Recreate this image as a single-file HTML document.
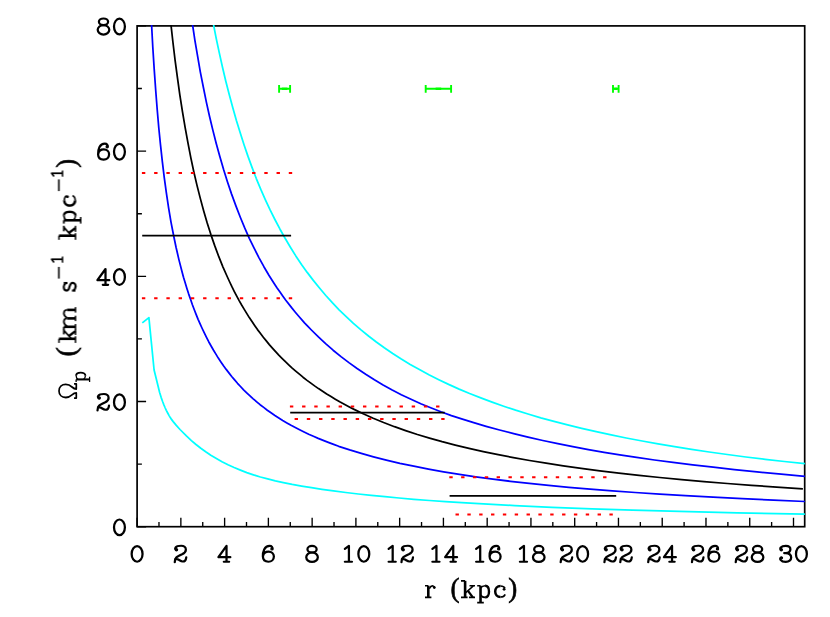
<!DOCTYPE html>
<html><head><meta charset="utf-8"><title>Pattern speed</title>
<style>html,body{margin:0;padding:0;background:#fff}body{width:830px;height:617px;overflow:hidden;font-family:"Liberation Sans",sans-serif}svg{display:block}</style>
</head><body>
<svg width="830" height="617" viewBox="0 0 830 617">
<defs><clipPath id="c"><rect x="136.1" y="24.9" width="669.6" height="502.80000000000007"/></clipPath></defs>
<rect x="137.1" y="25.9" width="667.6" height="500.80000000000007" fill="none" stroke="#000" stroke-width="1.7"/>
<path d="M137.10,526.7v-9.0M158.98,526.7v-4.8M180.86,526.7v-9.0M202.74,526.7v-4.8M224.62,526.7v-9.0M246.50,526.7v-4.8M268.38,526.7v-9.0M290.26,526.7v-4.8M312.14,526.7v-9.0M334.02,526.7v-4.8M355.90,526.7v-9.0M377.78,526.7v-4.8M399.66,526.7v-9.0M421.54,526.7v-4.8M443.42,526.7v-9.0M465.30,526.7v-4.8M487.18,526.7v-9.0M509.06,526.7v-4.8M530.94,526.7v-9.0M552.82,526.7v-4.8M574.70,526.7v-9.0M596.58,526.7v-4.8M618.46,526.7v-9.0M640.34,526.7v-4.8M662.22,526.7v-9.0M684.10,526.7v-4.8M705.98,526.7v-9.0M727.86,526.7v-4.8M749.74,526.7v-9.0M771.62,526.7v-4.8M793.50,526.7v-9.0M137.1,526.70h9.0M137.1,464.10h4.8M137.1,401.50h9.0M137.1,338.90h4.8M137.1,276.30h9.0M137.1,213.70h4.8M137.1,151.10h9.0M137.1,88.50h4.8M137.1,25.90h9.0" stroke="#000" stroke-width="1.35" fill="none"/>
<g clip-path="url(#c)" fill="none" stroke-width="1.75" stroke-linejoin="round">
<path d="M142.3,322.9L148.9,317.6L154.1,370.0L159.7,392.8L161.2,397.6L162.6,401.5L163.8,404.6L165.0,407.5L166.3,410.3L167.7,413.0L169.1,415.6L170.3,417.6L171.5,419.4L173.2,421.6L176.3,425.4L180.0,429.5L186.4,435.9L191.4,440.6L196.0,444.5L200.8,448.3L205.7,451.8L210.8,455.2L216.4,458.5L222.0,461.7L228.0,464.7L234.1,467.5L240.4,470.1L246.8,472.6L253.4,474.8L260.4,477.0L267.7,478.9L275.3,480.8L283.4,482.6L292.2,484.4L301.6,486.1L311.5,487.7L322.0,489.3L333.5,490.9L345.8,492.5L358.3,494.0L371.3,495.4L385.0,496.7L399.0,498.0L413.8,499.3L429.5,500.5L445.5,501.6L461.8,502.7L479.0,503.7L514.7,505.6L552.0,507.3L592.1,508.9L632.6,510.2L679.6,511.4L737.4,512.8L804.9,514.2" stroke="#0ff"/>
<path d="M213.1,22.5L216.2,38.3L219.3,52.9L222.5,67.2L225.8,81.2L229.3,94.8L232.8,107.8L236.4,120.5L240.2,132.8L244.1,144.9L248.0,156.4L252.2,167.9L256.4,178.8L260.8,189.4L265.4,199.8L270.1,209.9L274.9,219.5L280.0,229.2L285.1,238.3L290.4,247.2L295.8,255.9L301.5,264.4L307.2,272.4L313.3,280.4L319.5,288.0L325.8,295.5L332.3,302.7L339.1,309.8L346.2,316.6L353.4,323.3L360.7,329.6L368.5,336.0L376.3,342.0L384.3,347.8L392.7,353.5L401.3,359.0L410.2,364.4L419.4,369.6L428.9,374.7L438.8,379.7L448.6,384.4L459.1,389.1L469.6,393.5L480.8,397.9L492.1,402.1L503.7,406.2L515.6,410.2L528.0,414.0L540.8,417.8L554.0,421.4L567.6,424.9L581.7,428.4L596.2,431.7L611.2,434.9L626.2,438.0L642.2,441.0L658.1,443.9L674.6,446.7L691.6,449.4L709.2,452.0L727.3,454.5L745.9,457.0L765.2,459.3L784.4,461.5L804.9,463.7" stroke="#0ff"/>
<path d="M151.5,23.2L152.8,47.2L154.2,69.1L155.7,90.2L157.2,109.5L158.8,128.0L160.5,144.9L162.4,162.1L164.3,177.8L166.4,193.1L168.6,207.8L171.0,222.1L173.5,235.0L176.1,247.5L178.9,259.6L181.9,271.3L183.5,277.3L185.1,282.5L186.9,288.4L188.7,294.1L190.7,299.8L192.4,304.8L194.3,309.7L196.2,314.6L198.1,319.3L200.1,323.9L202.2,328.5L204.3,332.9L206.5,337.3L208.7,341.7L211.1,346.0L213.4,350.0L215.9,354.1L218.3,358.1L220.9,361.9L223.5,365.7L226.2,369.4L228.9,372.9L231.7,376.5L234.6,379.9L237.5,383.3L240.5,386.5L243.6,389.8L246.7,392.8L250.0,395.9L253.2,398.8L256.7,401.8L260.1,404.7L263.7,407.4L267.3,410.2L271.0,412.8L274.9,415.5L278.8,418.0L282.7,420.5L286.9,422.9L291.0,425.3L295.3,427.6L299.6,429.8L304.1,432.0L308.7,434.2L313.4,436.3L318.2,438.4L323.2,440.4L328.3,442.4L333.6,444.4L338.7,446.3L349.7,449.9L361.3,453.4L373.5,456.8L386.3,460.1L399.9,463.3L413.8,466.2L428.5,469.1L443.6,471.8L459.5,474.3L475.8,476.8L492.9,479.1L510.4,481.3L529.3,483.4L548.6,485.4L568.8,487.3L590.1,489.1L612.4,490.9L635.2,492.5L659.7,494.1L685.4,495.7L713.1,497.2L742.2,498.7L773.5,500.1L804.9,501.5" stroke="#00f"/>
<path d="M192.2,22.3L194.9,40.3L197.6,56.1L200.3,71.8L203.3,87.0L206.3,101.9L209.5,116.3L212.9,130.4L216.3,143.8L219.9,156.8L223.6,169.6L227.5,182.0L231.6,194.1L235.9,205.9L240.3,217.2L244.7,227.9L249.3,238.3L254.1,248.2L258.9,257.6L263.9,266.7L268.9,275.3L274.3,283.8L277.1,288.0L280.0,292.1L282.9,296.2L285.8,300.2L291.8,307.9L294.9,311.7L298.1,315.5L304.5,322.8L307.9,326.4L311.4,330.0L318.4,336.9L325.6,343.6L333.1,350.2L341.0,356.6L348.9,362.6L357.1,368.5L365.7,374.3L374.4,379.8L383.1,385.0L392.2,390.0L401.3,394.7L411.0,399.3L420.8,403.7L430.7,407.8L440.9,411.8L451.4,415.6L462.4,419.2L473.7,422.7L486.1,426.3L499.6,430.0L513.7,433.6L528.0,437.1L542.8,440.5L557.8,443.6L572.8,446.7L588.4,449.6L604.1,452.3L619.8,454.9L636.6,457.4L654.5,460.0L673.0,462.4L692.7,464.9L713.2,467.2L734.4,469.6L757.0,471.9L781.2,474.2L804.9,476.4" stroke="#00f"/>
<path d="M170.7,22.3L172.9,42.0L175.1,60.3L177.5,78.2L179.9,95.4L182.5,111.9L185.2,127.8L188.0,143.1L190.8,157.7L193.8,171.7L197.0,185.4L200.3,198.4L203.7,210.9L207.2,223.0L210.9,234.6L214.8,245.9L218.8,256.7L223.0,267.1L227.4,277.0L229.7,282.0L231.9,286.7L234.2,291.3L236.6,295.9L239.0,300.4L241.5,304.8L244.1,309.1L246.7,313.4L249.3,317.6L252.0,321.6L254.8,325.7L257.5,329.6L260.5,333.5L263.3,337.3L266.3,340.9L269.3,344.6L272.4,348.1L275.6,351.6L278.8,355.1L282.0,358.3L285.4,361.7L288.7,364.8L292.2,368.1L295.7,371.1L299.4,374.2L303.0,377.2L306.7,380.1L310.5,382.9L314.6,385.9L318.5,388.6L322.6,391.3L326.7,394.0L331.0,396.6L335.3,399.2L339.7,401.8L344.3,404.3L348.9,406.7L353.6,409.1L363.2,413.7L373.2,418.2L383.6,422.5L394.5,426.7L405.6,430.6L417.4,434.5L429.5,438.1L442.1,441.7L455.3,445.1L469.0,448.4L483.3,451.6L498.2,454.7L513.4,457.6L529.6,460.5L546.1,463.2L563.3,465.8L581.2,468.4L599.9,470.8L618.9,473.1L639.1,475.4L659.7,477.5L681.7,479.6L704.0,481.6L727.3,483.5L751.5,485.4L776.6,487.1L802.9,488.8" stroke="#000"/>
</g>
<g stroke="#000" stroke-width="1.75" fill="none">
<path d="M142.2,235.5H291.1"/>
<path d="M290.2,412.55H444.7"/>
<path d="M449.6,495.93H616.2"/>
</g>
<g stroke="#f00" stroke-width="2" fill="none">
<path d="M141.9,173.1H292.2" stroke-dasharray="3.4 8.84"/>
<path d="M141.9,298.15H292.2" stroke-dasharray="3.4 8.84"/>
<path d="M289.9,406.55H439.5" stroke-dasharray="3.4 8.78"/>
<path d="M294.6,419.1H444.6" stroke-dasharray="3.4 8.82"/>
<path d="M449.3,477.3H606.5" stroke-dasharray="3.4 8.43"/>
<path d="M455.5,514.6H612.8" stroke-dasharray="3.4 8.44"/>
</g>
<g stroke="#0f0" stroke-width="1.9" fill="none">
<path d="M279.1,88.8H290.1M279.1,84.9V92.7M290.1,84.9V92.7"/>
<path d="M281.8,88.8H287.4" stroke-width="2.4"/>
<path d="M425.7,88.8H451.1M425.7,84.9V92.7M451.1,84.9V92.7"/>
<path d="M435.6,88.8H441.2" stroke-width="2.4"/>
<path d="M613.0,88.8H618.6M613.0,84.9V92.7M618.6,84.9V92.7"/>
<path d="M614.2,88.8H617.4" stroke-width="2.4"/>
</g>
<g fill="none" stroke="#000" stroke-width="2.25" stroke-linecap="round" stroke-linejoin="round">
<g transform="translate(137.10,561.75) scale(1,0.975)"><ellipse cx="0" cy="-8.05" rx="5.45" ry="8.05"/></g>
<g transform="translate(180.86,561.75) scale(1,0.975)"><path d="M-4.4,-12.2C-5.6,-12.4 -6,-13.6 -5.4,-14.4C-4.4,-15.9 -2,-16.4 0.3,-16.4C3.2,-16.4 5,-14.6 5,-12.4C5,-10.2 3.4,-8.8 1.2,-7.7C-1,-6.7 -3.4,-5.6 -4.6,-4.4C-5.7,-3.2 -6.1,-1.4 -6.1,0.4M-5.6,-3C-4.6,-2.9 -3.6,-2.7 -2.6,-2.2C-1.2,-1.5 .2,-.3 1.7,-.25C3.6,-.2 5.1,-1.8 5.4,-4.6"/><circle cx="-4.4" cy="-12.3" r="0.6"/></g>
<g transform="translate(224.62,561.75) scale(1,0.975)"><path d="M1.9,0V-16.2L-6.2,-4.7H5.7M-.8,0H4.5"/></g>
<g transform="translate(268.38,561.75) scale(1,0.975)"><path d="M3.7,-13.2C4.6,-14.6 3.4,-16.3 1.2,-16.3C-1,-16.3 -3,-15 -4.2,-12.6C-5.2,-10.5 -5.6,-8 -5.5,-5.3C-5.4,-2 -3.2,0 0,0C3.2,0 5.5,-2.2 5.5,-5.4C5.5,-8.4 3.2,-10.4 .2,-10.4C-2.6,-10.4 -5,-8.6 -5.4,-5.6"/><circle cx="3.6" cy="-13.2" r="0.6"/></g>
<g transform="translate(312.14,561.75) scale(1,0.975)"><ellipse cx="-.1" cy="-12.9" rx="4.6" ry="3.4"/><ellipse cx="-.1" cy="-4.65" rx="5.8" ry="4.85"/></g>
<g transform="translate(347.97,561.75) scale(1,0.975)"><path d="M-3.1,-13.3L0.95,-16.3V0M-3.1,0H4.0"/></g><g transform="translate(363.82,561.75) scale(1,0.975)"><ellipse cx="0" cy="-8.05" rx="5.45" ry="8.05"/></g>
<g transform="translate(391.73,561.75) scale(1,0.975)"><path d="M-3.1,-13.3L0.95,-16.3V0M-3.1,0H4.0"/></g><g transform="translate(407.58,561.75) scale(1,0.975)"><path d="M-4.4,-12.2C-5.6,-12.4 -6,-13.6 -5.4,-14.4C-4.4,-15.9 -2,-16.4 0.3,-16.4C3.2,-16.4 5,-14.6 5,-12.4C5,-10.2 3.4,-8.8 1.2,-7.7C-1,-6.7 -3.4,-5.6 -4.6,-4.4C-5.7,-3.2 -6.1,-1.4 -6.1,0.4M-5.6,-3C-4.6,-2.9 -3.6,-2.7 -2.6,-2.2C-1.2,-1.5 .2,-.3 1.7,-.25C3.6,-.2 5.1,-1.8 5.4,-4.6"/><circle cx="-4.4" cy="-12.3" r="0.6"/></g>
<g transform="translate(435.49,561.75) scale(1,0.975)"><path d="M-3.1,-13.3L0.95,-16.3V0M-3.1,0H4.0"/></g><g transform="translate(451.34,561.75) scale(1,0.975)"><path d="M1.9,0V-16.2L-6.2,-4.7H5.7M-.8,0H4.5"/></g>
<g transform="translate(479.25,561.75) scale(1,0.975)"><path d="M-3.1,-13.3L0.95,-16.3V0M-3.1,0H4.0"/></g><g transform="translate(495.10,561.75) scale(1,0.975)"><path d="M3.7,-13.2C4.6,-14.6 3.4,-16.3 1.2,-16.3C-1,-16.3 -3,-15 -4.2,-12.6C-5.2,-10.5 -5.6,-8 -5.5,-5.3C-5.4,-2 -3.2,0 0,0C3.2,0 5.5,-2.2 5.5,-5.4C5.5,-8.4 3.2,-10.4 .2,-10.4C-2.6,-10.4 -5,-8.6 -5.4,-5.6"/><circle cx="3.6" cy="-13.2" r="0.6"/></g>
<g transform="translate(523.01,561.75) scale(1,0.975)"><path d="M-3.1,-13.3L0.95,-16.3V0M-3.1,0H4.0"/></g><g transform="translate(538.86,561.75) scale(1,0.975)"><ellipse cx="-.1" cy="-12.9" rx="4.6" ry="3.4"/><ellipse cx="-.1" cy="-4.65" rx="5.8" ry="4.85"/></g>
<g transform="translate(566.77,561.75) scale(1,0.975)"><path d="M-4.4,-12.2C-5.6,-12.4 -6,-13.6 -5.4,-14.4C-4.4,-15.9 -2,-16.4 0.3,-16.4C3.2,-16.4 5,-14.6 5,-12.4C5,-10.2 3.4,-8.8 1.2,-7.7C-1,-6.7 -3.4,-5.6 -4.6,-4.4C-5.7,-3.2 -6.1,-1.4 -6.1,0.4M-5.6,-3C-4.6,-2.9 -3.6,-2.7 -2.6,-2.2C-1.2,-1.5 .2,-.3 1.7,-.25C3.6,-.2 5.1,-1.8 5.4,-4.6"/><circle cx="-4.4" cy="-12.3" r="0.6"/></g><g transform="translate(582.62,561.75) scale(1,0.975)"><ellipse cx="0" cy="-8.05" rx="5.45" ry="8.05"/></g>
<g transform="translate(610.53,561.75) scale(1,0.975)"><path d="M-4.4,-12.2C-5.6,-12.4 -6,-13.6 -5.4,-14.4C-4.4,-15.9 -2,-16.4 0.3,-16.4C3.2,-16.4 5,-14.6 5,-12.4C5,-10.2 3.4,-8.8 1.2,-7.7C-1,-6.7 -3.4,-5.6 -4.6,-4.4C-5.7,-3.2 -6.1,-1.4 -6.1,0.4M-5.6,-3C-4.6,-2.9 -3.6,-2.7 -2.6,-2.2C-1.2,-1.5 .2,-.3 1.7,-.25C3.6,-.2 5.1,-1.8 5.4,-4.6"/><circle cx="-4.4" cy="-12.3" r="0.6"/></g><g transform="translate(626.38,561.75) scale(1,0.975)"><path d="M-4.4,-12.2C-5.6,-12.4 -6,-13.6 -5.4,-14.4C-4.4,-15.9 -2,-16.4 0.3,-16.4C3.2,-16.4 5,-14.6 5,-12.4C5,-10.2 3.4,-8.8 1.2,-7.7C-1,-6.7 -3.4,-5.6 -4.6,-4.4C-5.7,-3.2 -6.1,-1.4 -6.1,0.4M-5.6,-3C-4.6,-2.9 -3.6,-2.7 -2.6,-2.2C-1.2,-1.5 .2,-.3 1.7,-.25C3.6,-.2 5.1,-1.8 5.4,-4.6"/><circle cx="-4.4" cy="-12.3" r="0.6"/></g>
<g transform="translate(654.30,561.75) scale(1,0.975)"><path d="M-4.4,-12.2C-5.6,-12.4 -6,-13.6 -5.4,-14.4C-4.4,-15.9 -2,-16.4 0.3,-16.4C3.2,-16.4 5,-14.6 5,-12.4C5,-10.2 3.4,-8.8 1.2,-7.7C-1,-6.7 -3.4,-5.6 -4.6,-4.4C-5.7,-3.2 -6.1,-1.4 -6.1,0.4M-5.6,-3C-4.6,-2.9 -3.6,-2.7 -2.6,-2.2C-1.2,-1.5 .2,-.3 1.7,-.25C3.6,-.2 5.1,-1.8 5.4,-4.6"/><circle cx="-4.4" cy="-12.3" r="0.6"/></g><g transform="translate(670.14,561.75) scale(1,0.975)"><path d="M1.9,0V-16.2L-6.2,-4.7H5.7M-.8,0H4.5"/></g>
<g transform="translate(698.06,561.75) scale(1,0.975)"><path d="M-4.4,-12.2C-5.6,-12.4 -6,-13.6 -5.4,-14.4C-4.4,-15.9 -2,-16.4 0.3,-16.4C3.2,-16.4 5,-14.6 5,-12.4C5,-10.2 3.4,-8.8 1.2,-7.7C-1,-6.7 -3.4,-5.6 -4.6,-4.4C-5.7,-3.2 -6.1,-1.4 -6.1,0.4M-5.6,-3C-4.6,-2.9 -3.6,-2.7 -2.6,-2.2C-1.2,-1.5 .2,-.3 1.7,-.25C3.6,-.2 5.1,-1.8 5.4,-4.6"/><circle cx="-4.4" cy="-12.3" r="0.6"/></g><g transform="translate(713.90,561.75) scale(1,0.975)"><path d="M3.7,-13.2C4.6,-14.6 3.4,-16.3 1.2,-16.3C-1,-16.3 -3,-15 -4.2,-12.6C-5.2,-10.5 -5.6,-8 -5.5,-5.3C-5.4,-2 -3.2,0 0,0C3.2,0 5.5,-2.2 5.5,-5.4C5.5,-8.4 3.2,-10.4 .2,-10.4C-2.6,-10.4 -5,-8.6 -5.4,-5.6"/><circle cx="3.6" cy="-13.2" r="0.6"/></g>
<g transform="translate(741.82,561.75) scale(1,0.975)"><path d="M-4.4,-12.2C-5.6,-12.4 -6,-13.6 -5.4,-14.4C-4.4,-15.9 -2,-16.4 0.3,-16.4C3.2,-16.4 5,-14.6 5,-12.4C5,-10.2 3.4,-8.8 1.2,-7.7C-1,-6.7 -3.4,-5.6 -4.6,-4.4C-5.7,-3.2 -6.1,-1.4 -6.1,0.4M-5.6,-3C-4.6,-2.9 -3.6,-2.7 -2.6,-2.2C-1.2,-1.5 .2,-.3 1.7,-.25C3.6,-.2 5.1,-1.8 5.4,-4.6"/><circle cx="-4.4" cy="-12.3" r="0.6"/></g><g transform="translate(757.66,561.75) scale(1,0.975)"><ellipse cx="-.1" cy="-12.9" rx="4.6" ry="3.4"/><ellipse cx="-.1" cy="-4.65" rx="5.8" ry="4.85"/></g>
<g transform="translate(785.58,561.75) scale(1,0.975)"><path d="M-4.3,-12.2C-5.4,-12.6 -5.6,-13.8 -4.8,-14.7C-3.8,-15.8 -2,-16.3 .2,-16.3C3,-16.3 4.8,-14.9 4.8,-12.7C4.8,-10.4 2.8,-9 .2,-8.9H-1.4M.2,-8.9C3.4,-8.8 5.6,-7 5.6,-4.4C5.6,-1.6 3.4,.1 .2,.1C-2,.1 -4,-.6 -5,-2C-5.8,-3.1 -5.3,-4.1 -4.2,-4.1"/><circle cx="-4.3" cy="-12.3" r="0.6"/><circle cx="-4.2" cy="-4" r="0.6"/></g><g transform="translate(801.42,561.75) scale(1,0.975)"><ellipse cx="0" cy="-8.05" rx="5.45" ry="8.05"/></g>
<g transform="translate(119.45,535.20) scale(1,0.975)"><ellipse cx="0" cy="-8.05" rx="5.45" ry="8.05"/></g>
<g transform="translate(103.60,410.00) scale(1,0.975)"><path d="M-4.4,-12.2C-5.6,-12.4 -6,-13.6 -5.4,-14.4C-4.4,-15.9 -2,-16.4 0.3,-16.4C3.2,-16.4 5,-14.6 5,-12.4C5,-10.2 3.4,-8.8 1.2,-7.7C-1,-6.7 -3.4,-5.6 -4.6,-4.4C-5.7,-3.2 -6.1,-1.4 -6.1,0.4M-5.6,-3C-4.6,-2.9 -3.6,-2.7 -2.6,-2.2C-1.2,-1.5 .2,-.3 1.7,-.25C3.6,-.2 5.1,-1.8 5.4,-4.6"/><circle cx="-4.4" cy="-12.3" r="0.6"/></g><g transform="translate(119.45,410.00) scale(1,0.975)"><ellipse cx="0" cy="-8.05" rx="5.45" ry="8.05"/></g>
<g transform="translate(103.60,284.80) scale(1,0.975)"><path d="M1.9,0V-16.2L-6.2,-4.7H5.7M-.8,0H4.5"/></g><g transform="translate(119.45,284.80) scale(1,0.975)"><ellipse cx="0" cy="-8.05" rx="5.45" ry="8.05"/></g>
<g transform="translate(103.60,159.60) scale(1,0.975)"><path d="M3.7,-13.2C4.6,-14.6 3.4,-16.3 1.2,-16.3C-1,-16.3 -3,-15 -4.2,-12.6C-5.2,-10.5 -5.6,-8 -5.5,-5.3C-5.4,-2 -3.2,0 0,0C3.2,0 5.5,-2.2 5.5,-5.4C5.5,-8.4 3.2,-10.4 .2,-10.4C-2.6,-10.4 -5,-8.6 -5.4,-5.6"/><circle cx="3.6" cy="-13.2" r="0.6"/></g><g transform="translate(119.45,159.60) scale(1,0.975)"><ellipse cx="0" cy="-8.05" rx="5.45" ry="8.05"/></g>
<g transform="translate(103.60,34.40) scale(1,0.975)"><ellipse cx="-.1" cy="-12.9" rx="4.6" ry="3.4"/><ellipse cx="-.1" cy="-4.65" rx="5.8" ry="4.85"/></g><g transform="translate(119.45,34.40) scale(1,0.975)"><ellipse cx="0" cy="-8.05" rx="5.45" ry="8.05"/></g>
</g>
<g font-family="Liberation Serif, serif" fill="#000" stroke="#000" stroke-width="0.6" style="filter:grayscale(1)">
<g transform="translate(0,598)">
<text x="450.6" y="-1.0" font-size="26.5" textLength="9.0" lengthAdjust="spacingAndGlyphs">(</text>
<text x="508.2" y="-1.0" font-size="26.5" textLength="9.0" lengthAdjust="spacingAndGlyphs">)</text>
</g>
<g transform="translate(76.2,399) rotate(-90)">
<text x="42.4" y="-1.0" font-size="26.5" textLength="9.4" lengthAdjust="spacingAndGlyphs">(</text>
<text x="231.2" y="-1.0" font-size="26.5" textLength="8.8" lengthAdjust="spacingAndGlyphs">)</text>
</g>
</g>
<g fill="none" stroke="#000" stroke-linecap="butt" stroke-linejoin="round">
<g transform="translate(0,597.36)">
<g transform="translate(424.40,0.00)"><path d="M3.9,-11.6V0" stroke-width="2.6"/><path d="M.6,-11.6H3.9M.6,0H7M4.9,-8.6C6,-10.8 7.5,-11.6 8.6,-11.4C9.6,-11.2 10.2,-10.5 10.1,-9.7" stroke-width="1.6"/><circle cx="9.9" cy="-9.8" r="1.4" fill="#000" stroke="none"/></g><g transform="translate(460.60,0.00)"><path d="M4.5,-16.5V0" stroke-width="2.6"/><path d="M.4,-16.5H4.5M.4,0H7M4.5,-4.2L13,-11.6M8.9,-11.6H14.4M8.35,0H14.4" stroke-width="1.6"/><path d="M7.4,-6.5L12.2,0" stroke-width="2.3"/></g><g transform="translate(476.80,0.00)"><path d="M3.73,-11.6V5.24" stroke-width="2.6"/><path d="M.4,-11.6H3.7M.4,5.24H7M3.73,-9.2C5,-11 6.6,-11.6 8.3,-11.6M8.3,0C6.6,0 5,-.6 3.73,-2.4" stroke-width="1.6"/><path d="M8.3,-11.6C10.8,-11.6 12.2,-9.2 12.2,-5.8C12.2,-2.4 10.8,0 8.3,0" stroke-width="2.4"/></g><g transform="translate(493.60,0.00)"><path d="M6.9,-11.3C3.6,-11.3 1.6,-9 1.6,-5.8C1.6,-2.6 3.6,-.3 6.9,-.3" stroke-width="2.5"/><path d="M11.4,-8.9C10.6,-10.6 8.8,-11.3 6.9,-11.3M6.9,-.3C9,-.3 10.8,-1.2 11.6,-3" stroke-width="1.6"/><circle cx="10.5" cy="-8" r="1.4" fill="#000" stroke="none"/></g>
</g>
<g transform="translate(75.5,399) rotate(-90)">
<path transform="translate(0.9,0.8) scale(1,0.94)" d="M0,-2.4V0H5.2C5.2,-1.6 4.5,-3.1 3.2,-4.6C1.2,-6.9 .6,-9 .6,-11.2C.6,-15.5 3.3,-18.4 7.15,-18.4C11,-18.4 13.7,-15.5 13.7,-11.2C13.7,-9 13.1,-6.9 11.1,-4.6C9.8,-3.1 9.1,-1.6 9.1,0H14.3V-2.4" stroke-width="1.8"/>
<g transform="translate(16.60,9.90) scale(0.8)"><path d="M3.73,-11.6V5.24" stroke-width="2.6"/><path d="M.4,-11.6H3.7M.4,5.24H7M3.73,-9.2C5,-11 6.6,-11.6 8.3,-11.6M8.3,0C6.6,0 5,-.6 3.73,-2.4" stroke-width="1.6"/><path d="M8.3,-11.6C10.8,-11.6 12.2,-9.2 12.2,-5.8C12.2,-2.4 10.8,0 8.3,0" stroke-width="2.4"/></g>
<path d="M120.4,-16.6h11.7" stroke-width="1.6"/>
<g transform="translate(139.1,-13) scale(0.67)" stroke-width="2.6" stroke-linecap="round"><path d="M-3.1,-13.3L0.95,-16.3V0M-3.1,0H4.0"/></g>
<path d="M207.9,-16.6h11.7" stroke-width="1.6"/>
<g transform="translate(225.1,-13) scale(0.67)" stroke-width="2.6" stroke-linecap="round"><path d="M-3.1,-13.3L0.95,-16.3V0M-3.1,0H4.0"/></g>
<g transform="translate(55.70,0.00)"><path d="M4.5,-16.5V0" stroke-width="2.6"/><path d="M.4,-16.5H4.5M.4,0H7M4.5,-4.2L13,-11.6M8.9,-11.6H14.4M8.35,0H14.4" stroke-width="1.6"/><path d="M7.4,-6.5L12.2,0" stroke-width="2.3"/></g><g transform="translate(69.20,0.00)"><path d="M3,-11.6V0M11.4,-8.6V0M19.9,-8.6V0" stroke-width="2.6"/><path d="M.4,-11.6H3M.4,0H5.8M8.7,0H14.1M17.2,0H22.7M3.6,-8.4C4.8,-10.6 6.2,-11.6 7.9,-11.6C10.1,-11.6 11.4,-10.6 11.4,-8.4M12,-8.4C13.2,-10.6 14.6,-11.6 16.3,-11.6C18.6,-11.6 19.9,-10.6 19.9,-8.4" stroke-width="1.6"/></g><g transform="translate(107.30,0.00)"><path d="M8.7,-8V-11.7M8.7,-9.5C7.8,-11 6.4,-11.7 4.8,-11.7C2.6,-11.7 1.1,-10.5 1.1,-8.8C1.1,-6.9 3,-6.4 5,-5.9C7.2,-5.3 8.9,-4.7 8.9,-2.9C8.9,-1 7.2,.1 5,.1C3.2,.1 1.8,-.7 1.1,-2.3M1.1,-3.6V.1" stroke-width="2.1"/></g><g transform="translate(158.80,0.00)"><path d="M4.5,-16.5V0" stroke-width="2.6"/><path d="M.4,-16.5H4.5M.4,0H7M4.5,-4.2L13,-11.6M8.9,-11.6H14.4M8.35,0H14.4" stroke-width="1.6"/><path d="M7.4,-6.5L12.2,0" stroke-width="2.3"/></g><g transform="translate(175.00,0.00)"><path d="M3.73,-11.6V5.24" stroke-width="2.6"/><path d="M.4,-11.6H3.7M.4,5.24H7M3.73,-9.2C5,-11 6.6,-11.6 8.3,-11.6M8.3,0C6.6,0 5,-.6 3.73,-2.4" stroke-width="1.6"/><path d="M8.3,-11.6C10.8,-11.6 12.2,-9.2 12.2,-5.8C12.2,-2.4 10.8,0 8.3,0" stroke-width="2.4"/></g><g transform="translate(191.80,0.00)"><path d="M6.9,-11.3C3.6,-11.3 1.6,-9 1.6,-5.8C1.6,-2.6 3.6,-.3 6.9,-.3" stroke-width="2.5"/><path d="M11.4,-8.9C10.6,-10.6 8.8,-11.3 6.9,-11.3M6.9,-.3C9,-.3 10.8,-1.2 11.6,-3" stroke-width="1.6"/><circle cx="10.5" cy="-8" r="1.4" fill="#000" stroke="none"/></g>
</g>
</g>
</svg>
</body></html>
